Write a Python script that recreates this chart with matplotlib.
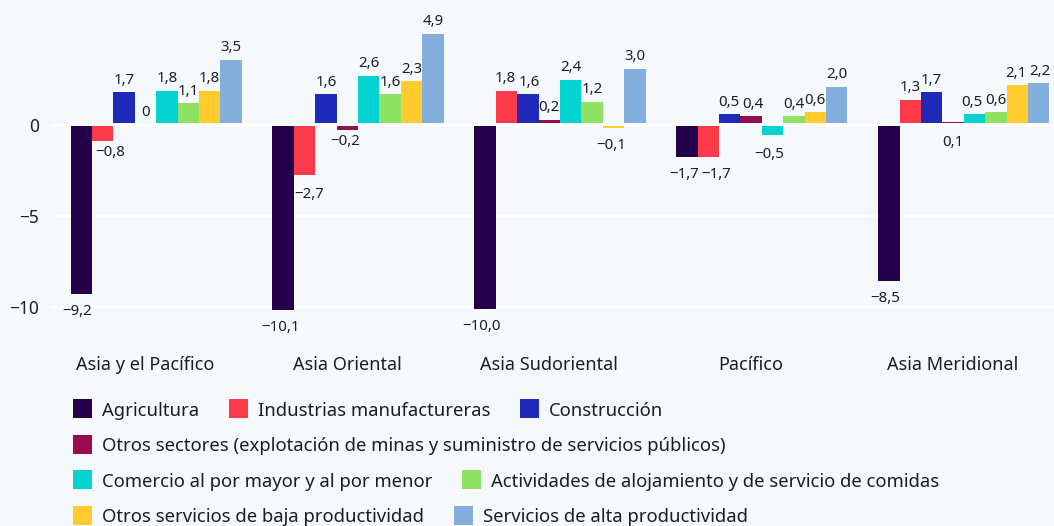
import matplotlib
matplotlib.use("Agg")
import matplotlib.pyplot as plt
from matplotlib.patches import Rectangle
import numpy as np

plt.rcParams['font.family'] = ['Noto Sans', 'DejaVu Sans']

# ---------------- data ----------------
regions = ["Asia y el Pacífico", "Asia Oriental", "Asia Sudoriental", "Pacífico", "Asia Meridional"]
series = [
    "Agricultura",
    "Industrias manufactureras",
    "Construcción",
    "Otros sectores (explotación de minas y suministro de servicios públicos)",
    "Comercio al por mayor y al por menor",
    "Actividades de alojamiento y de servicio de comidas",
    "Otros servicios de baja productividad",
    "Servicios de alta productividad",
]
agricultura = [-9.2, -10.1, -10.0, -1.7, -8.5]
manufactura = [-0.8, -2.7, 1.8, -1.7, 1.3]
construccion = [1.7, 1.6, 1.6, 0.5, 1.7]
otros_sectores = [0.0, -0.2, 0.2, 0.4, 0.1]
comercio = [1.8, 2.6, 2.4, -0.5, 0.5]
alojamiento = [1.1, 1.6, 1.2, 0.4, 0.6]
baja_prod = [1.8, 2.3, -0.1, 0.6, 2.1]
alta_prod = [3.5, 4.9, 3.0, 2.0, 2.2]
values = [agricultura, manufactura, construccion, otros_sectores,
          comercio, alojamiento, baja_prod, alta_prod]
yticks = [0, -5, -10]

colors = ["#25004b", "#fd3a4a", "#1f2bb8", "#980c4f",
          "#05d3d2", "#8ee264", "#ffcb2f", "#84aedb"]

# label nudges in pixels (dx, dy) for (series, region)
nudges = {
    (0, 0): (-4, 0), (0, 1): (-3, 0), (0, 2): (-4, 0), (0, 4): (-4, 0),
    (1, 0): (8, 6), (1, 1): (5, -2), (3, 1): (-2, 6),
    (0, 3): (-3, 0), (1, 3): (8, 0), (4, 3): (-3, -2), (6, 2): (-2, 0),
    (2, 3): (-1, 0), (3, 3): (2, 0), (4, 4): (-2.5, 0), (5, 4): (0.5, 0),
    (6, 4): (-1.5, 0), (7, 4): (1, 0), (1, 2): (-1, 0), (2, 2): (1, 0),
}

LABEL_SIZE = 10.8
BG = "#f6f9fc"
TXT = "#1e1e1e"
W, H = 1054, 526

fig = plt.figure(figsize=(W / 100, H / 100), dpi=100, facecolor=BG)
ax_l, ax_b, ax_t = 52, 340, 0
ax = fig.add_axes([ax_l / W, (H - ax_b) / H, (W - ax_l) / W, (ax_b - ax_t) / H])
ax.set_facecolor(BG)

y0_px = 124.7
ppu = 18.25
ax.set_ylim(-(ax_b - y0_px) / ppu, y0_px / ppu)
ax.set_xlim(-0.463, 4.5)
gap = 1.3 / ppu  # bars start just off the zero line

x = np.arange(len(regions))
bw = 0.106
for j, (vals, col) in enumerate(zip(values, colors)):
    xs = x + (j - 3) * bw
    vals = np.asarray(vals)
    base = np.sign(vals) * gap
    ax.bar(xs, vals, bottom=base, width=bw, color=col, zorder=2, linewidth=0)
    for i, v in enumerate(vals):
        lab = ("%.1f" % abs(v)).replace(".", ",") if v != 0 else "0"
        if v < 0:
            lab = "\u2212" + lab
        dx, dy = nudges.get((j, i), (0, 0))
        below = v < 0 or (j, i) == (3, 4)
        end = v + base[i]
        if below:
            yref = min(end, 0)
            ax.annotate(lab, (xs[i], yref), xytext=(dx * 0.72, (-10 + dy) * 0.72),
                        textcoords="offset points", ha="center", va="top",
                        fontsize=LABEL_SIZE, color=TXT, zorder=4)
        else:
            ax.annotate(lab, (xs[i], end), xytext=(dx * 0.72, (8.5 - dy) * 0.72),
                        textcoords="offset points", ha="center", va="baseline",
                        fontsize=LABEL_SIZE, color=TXT, zorder=4)

# grid
for t in yticks:
    ax.axhline(t, color="white", lw=1.6 if t != 0 else 1.9, zorder=1)

ax.set_yticks(yticks)
ax.set_yticklabels([str(t).replace("-", "\u2212") for t in yticks])
ax.set_xticks(x)
ax.set_xticklabels(regions)
ax.tick_params(axis="y", length=0, pad=9, labelsize=12.5, labelcolor=TXT)
ax.tick_params(axis="x", length=0, pad=11.5, labelsize=13, labelcolor=TXT)
for s in ax.spines.values():
    s.set_visible(False)

# legend (flow layout) in pixel coordinates
lax = fig.add_axes([0, 0, 1, 1], facecolor="none")
lax.set_xlim(0, W)
lax.set_ylim(H, 0)
lax.axis("off")
rows = [[0, 1, 2], [3], [4, 5], [6, 7]]
row_y0, row_dy = 408.7, 35.6
sq = 19
fig.canvas.draw()
renderer = fig.canvas.get_renderer()
for r, idxs in enumerate(rows):
    cy = row_y0 + r * row_dy
    cx = 72.7
    for k in idxs:
        lax.add_patch(Rectangle((cx, cy - sq / 2), sq, sq, color=colors[k], lw=0))
        t = lax.text(cx + sq + 10, cy, series[k], fontsize=13.3, color=TXT,
                     va="center_baseline", ha="left")
        wpx = t.get_window_extent(renderer).width
        cx = cx + sq + 10 + wpx + 30

fig.savefig("out.png", dpi=100, facecolor=BG)
